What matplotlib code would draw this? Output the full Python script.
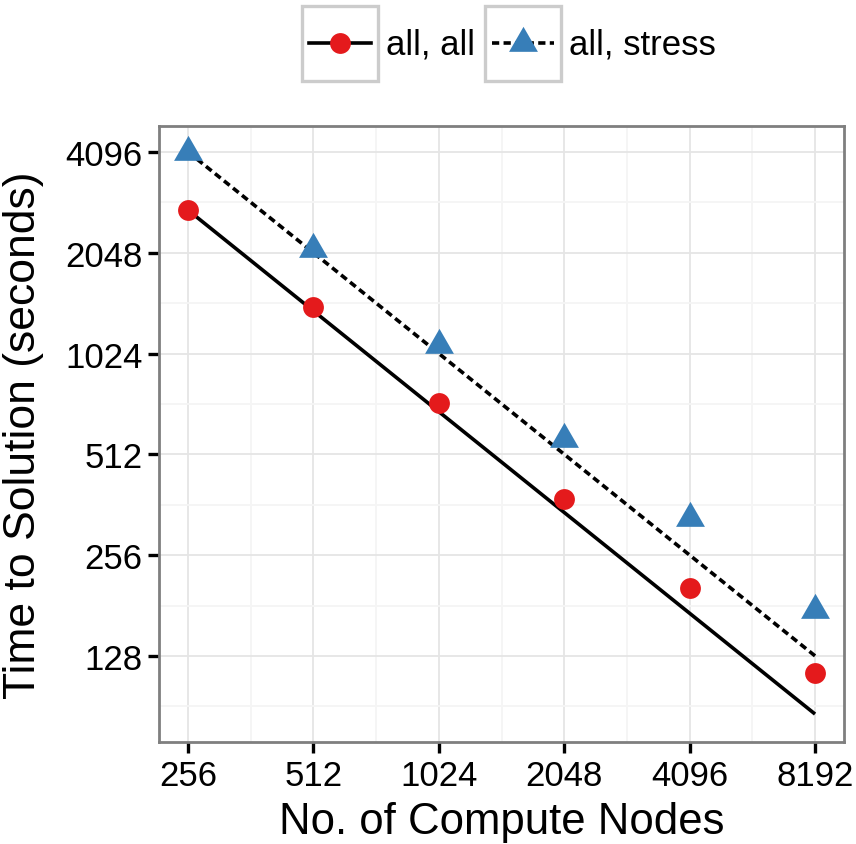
import numpy as np
import matplotlib.pyplot as plt
from matplotlib.patches import Rectangle
from matplotlib.lines import Line2D
from matplotlib.ticker import FixedLocator, NullFormatter

plt.rcParams['font.family'] = ['Liberation Sans', 'DejaVu Sans']

# data
nodes = [256, 512, 1024, 2048, 4096, 8192]
time_all = [2748, 1410, 728, 376, 205, 114]
time_stress = [4100, 2100, 1084, 568, 330, 176]
# ideal scaling lines start at the first measured point
ideal_all = [time_all[0] * nodes[0] / n for n in nodes]
ideal_stress = [time_stress[0] * nodes[0] / n for n in nodes]
y_ticks = [128, 256, 512, 1024, 2048, 4096]

red = '#E41A1C'
blue = '#377EB8'
tri = [(0, 1.1547), (-1, -0.5774), (1, -0.5774)]  # equilateral triangle like ggplot
dash = (0, (2.0, 1.2))

fig = plt.figure(figsize=(8.56, 8.45), dpi=100)
ax = fig.add_axes([159 / 856, 1 - 743 / 845, (844 - 159) / 856, (743 - 127) / 845])

ax.plot(nodes, ideal_all, color='black', lw=2.6, solid_capstyle='butt', zorder=3)
ax.plot(nodes, ideal_stress, color='black', lw=2.6, linestyle=dash, zorder=3)
ax.plot(nodes, time_all, 'o', color=red, ms=15, mec='none', zorder=4)
ax.plot(nodes, time_stress, marker=tri, ls='none', color=blue, ms=24, mec='none', zorder=4)

ax.set_xscale('log', base=2)
ax.set_yscale('log', base=2)
ax.set_xlim(2 ** (8 - 0.231), 2 ** (13 + 0.231))
ax.set_ylim(2 ** 6.147, 2 ** 12.258)

ax.xaxis.set_major_locator(FixedLocator(nodes))
ax.set_xticklabels([str(n) for n in nodes])
ax.yaxis.set_major_locator(FixedLocator(y_ticks))
ax.set_yticklabels([str(t) for t in y_ticks])
ax.xaxis.set_minor_locator(FixedLocator([n * np.sqrt(2) for n in [128] + nodes]))
ax.yaxis.set_minor_locator(FixedLocator([t * np.sqrt(2) for t in [64] + y_ticks]))
ax.xaxis.set_minor_formatter(NullFormatter())
ax.yaxis.set_minor_formatter(NullFormatter())

ax.grid(which='major', color='#e5e5e5', lw=1.3)
ax.grid(which='minor', color='#f5f5f5', lw=1.3)
ax.set_axisbelow(True)
ax.tick_params(which='major', length=8, width=2.4, color='black', labelsize=25, pad=4, labelcolor='black')
ax.tick_params(which='minor', length=0)
for s in ax.spines.values():
    s.set_color('#7f7f7f')
    s.set_linewidth(2)

ax.set_xlabel('No. of Compute Nodes', fontsize=31.5)
ax.set_ylabel('Time to Solution (seconds)', fontsize=32)
ax.xaxis.set_label_coords(0.5, -0.095)
ax.yaxis.set_label_coords(-0.168, 0.5)

# legend drawn as ggplot-style keys with grey borders
lax = fig.add_axes([0, 1 - 90 / 845, 1, 90 / 845])
lax.set_xlim(0, 856)
lax.set_ylim(90, 0)
lax.axis('off')
keys = [(302, 'all, all', '-', 'o', red, 15), (485, 'all, stress', dash, tri, blue, 24)]
for x0, label, ls, mk, col, ms in keys:
    lax.add_patch(Rectangle((x0, 7), 76, 75, fill=False, ec='#cccccc', lw=2.4))
    lax.add_line(Line2D([x0 + 7, x0 + 69], [44, 44], color='black', lw=2.6, linestyle=ls))
    lax.plot([x0 + 38], [44], marker=mk, ls='none', color=col, ms=ms, mec='none')
    lax.text(x0 + 84, 45, label, fontsize=25, va='center', ha='left')

fig.savefig('out.png', dpi=100)
